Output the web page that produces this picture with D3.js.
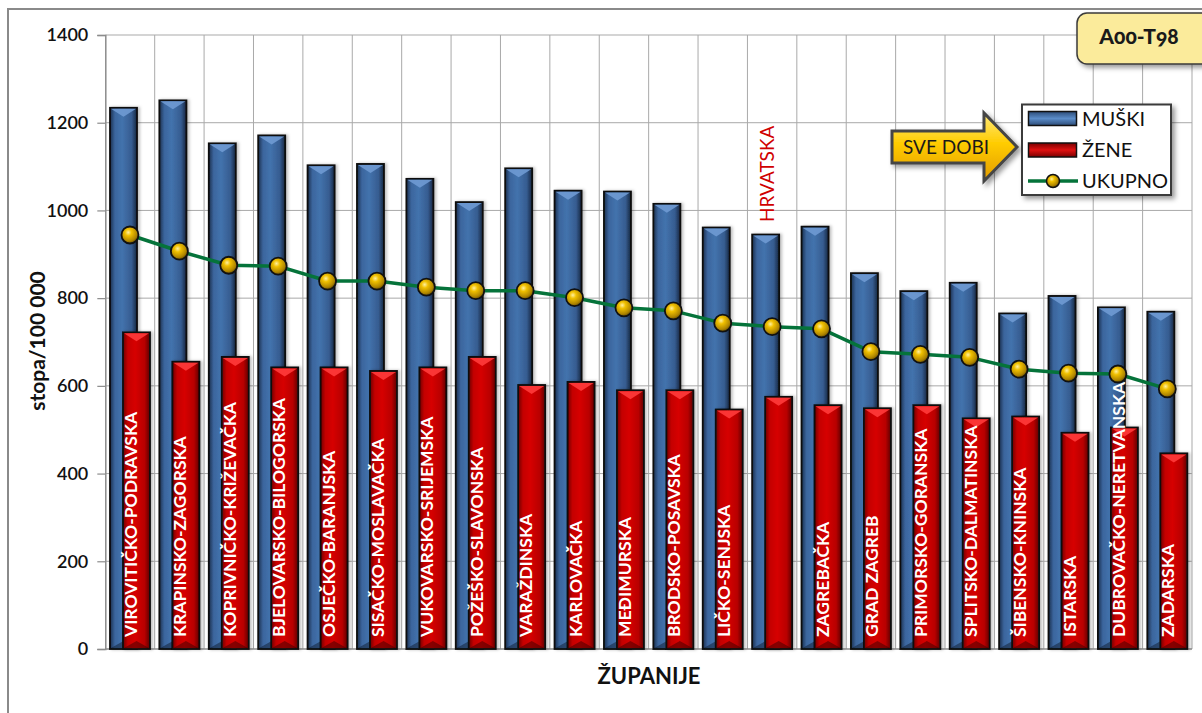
<!DOCTYPE html>
<html>
<head>
<meta charset="utf-8">
<script src="https://cdn.jsdelivr.net/npm/d3@7"></script>
<style>
  html, body { margin: 0; padding: 0; background: #fff; }
  svg { display: block; }
</style>
</head>
<body>
<svg id="chart" width="1202" height="713" font-family="Lato, 'Open Sans', sans-serif"></svg>
<script>
// Županije, mortality rates per 100 000, all ages (A00–T98)
const categories = [
  "VIROVITIČKO-PODRAVSKA", "KRAPINSKO-ZAGORSKA", "KOPRIVNIČKO-KRIŽEVAČKA",
  "BJELOVARSKO-BILOGORSKA", "OSJEČKO-BARANJSKA", "SISAČKO-MOSLAVAČKA",
  "VUKOVARSKO-SRIJEMSKA", "POŽEŠKO-SLAVONSKA", "VARAŽDINSKA", "KARLOVAČKA",
  "MEĐIMURSKA", "BRODSKO-POSAVSKA", "LIČKO-SENJSKA", "HRVATSKA", "ZAGREBAČKA",
  "GRAD ZAGREB", "PRIMORSKO-GORANSKA", "SPLITSKO-DALMATINSKA", "ŠIBENSKO-KNINSKA",
  "ISTARSKA", "DUBROVAČKO-NERETVANSKA", "ZADARSKA"
];
const muski = [1234, 1251, 1153, 1171, 1103, 1106, 1072, 1019, 1096, 1045, 1043,
               1015, 961, 945, 963, 857, 816, 835, 765, 805, 779, 769];
const zene = [722, 655, 666, 642, 642, 634, 642, 666, 602, 609, 590,
              590, 546, 575, 556, 549, 556, 526, 530, 493, 505, 446];
const ukupno = [944, 907, 875, 873, 839, 839, 825, 817, 817, 801, 778,
                771, 743, 735, 730, 678, 672, 665, 638, 629, 627, 593];
const yTicks = [0, 200, 400, 600, 800, 1000, 1200, 1400];
const seriesNames = ["MUŠKI", "ŽENE", "UKUPNO"];
const totalLabel = "HRVATSKA";
const yTitle = "stopa/100 000";
const xTitle = "ŽUPANIJE";
const badgeText = "A00-T98";
const arrowText = "SVE DOBI";

const svg = d3.select("#chart");
const defs = svg.append("defs");

// gradients
function hGrad(id, stops) {
  const g = defs.append("linearGradient").attr("id", id)
    .attr("x1", "0%").attr("x2", "100%").attr("y1", "0%").attr("y2", "0%");
  stops.forEach(([o, c]) => g.append("stop").attr("offset", o).attr("stop-color", c));
}
function vGrad(id, stops) {
  const g = defs.append("linearGradient").attr("id", id)
    .attr("x1", "0%").attr("x2", "0%").attr("y1", "0%").attr("y2", "100%");
  stops.forEach(([o, c]) => g.append("stop").attr("offset", o).attr("stop-color", c));
}
hGrad("gBlue", [["0%", "#1b2f4d"], ["18%", "#3b659d"], ["45%", "#4373ad"], ["80%", "#365c90"], ["100%", "#16263f"]]);
hGrad("gRed", [["0%", "#6e0000"], ["18%", "#c40000"], ["45%", "#d60404"], ["80%", "#b80000"], ["100%", "#5e0000"]]);
vGrad("gBlueLeg", [["0%", "#2c4c78"], ["50%", "#5b8cc8"], ["100%", "#2c4c78"]]);
vGrad("gRedLeg", [["0%", "#7a0000"], ["50%", "#e01010"], ["100%", "#7a0000"]]);
vGrad("gArrow", [["0%", "#ffe97a"], ["45%", "#ffcc00"], ["100%", "#e29b00"]]);
const rg = defs.append("radialGradient").attr("id", "gBall")
  .attr("cx", "40%").attr("cy", "35%").attr("r", "65%");
[["0%", "#fff0a0"], ["30%", "#f0c000"], ["78%", "#b08600"], ["100%", "#705400"]]
  .forEach(([o, c]) => rg.append("stop").attr("offset", o).attr("stop-color", c));

const shadow = defs.append("filter").attr("id", "shadow")
  .attr("x", "-20%").attr("y", "-20%").attr("width", "150%").attr("height", "160%");
shadow.append("feDropShadow").attr("dx", 3).attr("dy", 3).attr("stdDeviation", 2.5)
  .attr("flood-color", "#000").attr("flood-opacity", 0.4);
const barShadow = defs.append("filter").attr("id", "barShadow")
  .attr("x", "-30%").attr("y", "-5%").attr("width", "170%").attr("height", "110%");
barShadow.append("feDropShadow").attr("dx", 2).attr("dy", 0).attr("stdDeviation", 1.5)
  .attr("flood-color", "#000").attr("flood-opacity", 0.25);

// outer frame
svg.append("rect").attr("x", 8).attr("y", 9).attr("width", 1220).attr("height", 720)
  .attr("fill", "none").attr("stroke", "#8a8a8a").attr("stroke-width", 2);

// scales
const plot = { left: 105.3, right: 1192, top: 35, bottom: 649 };
const x = d3.scaleBand().domain(categories).range([plot.left, plot.right]).padding(0);
const y = d3.scaleLinear().domain([0, 1400]).range([plot.bottom, plot.top]);
const bw = x.bandwidth();
const barW = bw * 0.547;
const blueOff = bw * 0.095;
const redOff = bw * 0.358;

// gridlines
const grid = svg.append("g");
grid.selectAll("line.h").data(yTicks.slice(1)).join("line")
  .attr("x1", plot.left).attr("x2", plot.right)
  .attr("y1", d => y(d)).attr("y2", d => y(d))
  .attr("stroke", "#a9a9a9").attr("stroke-width", 1);
grid.selectAll("line.v").data(categories.slice(1).concat(["_end"])).join("line")
  .attr("x1", (d, i) => i < categories.length - 1 ? x(d) : plot.right)
  .attr("x2", (d, i) => i < categories.length - 1 ? x(d) : plot.right)
  .attr("y1", plot.top).attr("y2", plot.bottom)
  .attr("stroke", "#a9a9a9").attr("stroke-width", 1);

// y axis
const yAxis = d3.axisLeft(y).tickValues(yTicks).tickSize(8).tickPadding(9).tickFormat(d3.format("d"));
const yg = svg.append("g").attr("transform", `translate(${plot.left},0)`).call(yAxis);
yg.select(".domain").attr("stroke", "#8c8c8c").attr("stroke-width", 1.5);
yg.selectAll(".tick line").attr("stroke", "#8c8c8c").attr("stroke-width", 1.2);
yg.selectAll(".tick text").attr("font-family", "Lato, sans-serif").attr("font-size", 18)
  .attr("font-weight", 600).attr("fill", "#111");

// x axis baseline
svg.append("line").attr("x1", plot.left).attr("x2", plot.right)
  .attr("y1", plot.bottom).attr("y2", plot.bottom)
  .attr("stroke", "#8c8c8c").attr("stroke-width", 1.5);

// bars
function drawBars(values, offset, fill, bevel, base, cls) {
  const g = svg.append("g").attr("class", cls);
  const rows = categories.map((c, i) => ({ c, v: values[i] }));
  const grp = g.selectAll("g").data(rows).join("g")
    .attr("transform", d => `translate(${x(d.c) + offset},0)`);
  grp.append("rect")
    .attr("x", 0).attr("width", barW)
    .attr("y", d => y(d.v)).attr("height", d => y(0) - y(d.v))
    .attr("fill", `url(#${fill})`).attr("stroke", "#0d0d0d").attr("stroke-width", 1.8)
    .attr("filter", "url(#barShadow)");
  // top bevel
  grp.append("path")
    .attr("d", d => {
      const t = y(d.v) + 1;
      return `M1,${t} L${barW - 1},${t} L${barW / 2},${t + 8} Z`;
    })
    .attr("fill", bevel).attr("opacity", 0.9);
  // bottom shade
  grp.append("path")
    .attr("d", () => {
      const b = y(0) - 1;
      return `M1,${b} L${barW - 1},${b} L${barW / 2},${b - 7} Z`;
    })
    .attr("fill", base).attr("opacity", 0.5);
}
drawBars(muski, blueOff, "gBlue", "#6f9ad3", "#0f1c30", "muski");
drawBars(zene, redOff, "gRed", "#ff3b3b", "#3a0000", "zene");

// category names inside bars
const nameG = svg.append("g");
nameG.selectAll("text").data(categories.filter(c => c !== totalLabel)).join("text")
  .attr("transform", d => `translate(${x(d) + bw / 2 + 7},637) rotate(-90)`)
  .attr("text-anchor", "start")
  .attr("font-family", "Lato, sans-serif")
  .attr("font-weight", 700).attr("font-size", 17.5)
  .attr("fill", "#fff")
  .text(d => d);

// national total label above its bar
svg.append("text")
  .attr("transform", `translate(${x(totalLabel) + bw / 2 + 2},222) rotate(-90)`)
  .attr("text-anchor", "start")
  .attr("font-size", 19).attr("fill", "#d00000")
  .text(totalLabel);

// total line with markers
const line = d3.line().x((d, i) => x(categories[i]) + bw / 2).y(d => y(d));
svg.append("path").datum(ukupno).attr("d", line)
  .attr("fill", "none").attr("stroke", "#05733a").attr("stroke-width", 3.5)
  .attr("stroke-linejoin", "round");
svg.append("g").selectAll("circle").data(ukupno).join("circle")
  .attr("cx", (d, i) => x(categories[i]) + bw / 2).attr("cy", d => y(d))
  .attr("r", 8.5).attr("fill", "url(#gBall)").attr("stroke", "#111").attr("stroke-width", 1.8);

// axis titles
svg.append("text")
  .attr("transform", `translate(45,341) rotate(-90)`)
  .attr("text-anchor", "middle").attr("font-size", 21).attr("font-weight", 700)
  .attr("fill", "#111").text(yTitle);
svg.append("text")
  .attr("x", 649).attr("y", 684)
  .attr("text-anchor", "middle").attr("font-size", 22).attr("font-weight", 700)
  .attr("fill", "#111").text(xTitle);

// badge
const badge = svg.append("g");
badge.append("rect").attr("x", 1077).attr("y", 13).attr("width", 150).attr("height", 51)
  .attr("rx", 10).attr("fill", "#fbeb9b").attr("stroke", "#3a3a3a").attr("stroke-width", 1.5)
  .attr("filter", "url(#shadow)");
badge.append("text").attr("x", 1139).attr("y", 44).attr("text-anchor", "middle")
  .attr("font-family", "Lato, sans-serif")
  .attr("font-weight", 900).attr("font-size", 21).attr("fill", "#1a1a1a")
  .style("font-variant-numeric", "oldstyle-nums")
  .text(badgeText);

// arrow callout
const arrow = svg.append("g");
arrow.append("path")
  .attr("d", "M892,131 L984,131 L984,113 L1017,147 L984,181 L984,163 L892,163 Z")
  .attr("fill", "url(#gArrow)").attr("stroke", "#454545").attr("stroke-width", 3)
  .attr("stroke-linejoin", "miter").attr("filter", "url(#shadow)");
arrow.append("text").attr("x", 946).attr("y", 154).attr("text-anchor", "middle")
  .attr("font-size", 19).attr("fill", "#1a1a1a").text(arrowText);

// legend
const leg = svg.append("g");
leg.append("rect").attr("x", 1022).attr("y", 104.5).attr("width", 149).attr("height", 90.5)
  .attr("fill", "#fff").attr("stroke", "#3a3a3a").attr("stroke-width", 2)
  .attr("filter", "url(#shadow)");
const legRows = [
  { name: seriesNames[0], y: 118.5, kind: "bar", fill: "gBlueLeg" },
  { name: seriesNames[1], y: 150, kind: "bar", fill: "gRedLeg" },
  { name: seriesNames[2], y: 181, kind: "line" }
];
legRows.forEach(r => {
  if (r.kind === "bar") {
    leg.append("rect").attr("x", 1028.5).attr("y", r.y - 7).attr("width", 48).attr("height", 14)
      .attr("fill", `url(#${r.fill})`).attr("stroke", "#111").attr("stroke-width", 1.5);
  } else {
    leg.append("line").attr("x1", 1028).attr("x2", 1078).attr("y1", r.y).attr("y2", r.y)
      .attr("stroke", "#05733a").attr("stroke-width", 3.5);
    leg.append("circle").attr("cx", 1053).attr("cy", r.y).attr("r", 6.5)
      .attr("fill", "url(#gBall)").attr("stroke", "#111").attr("stroke-width", 1.5);
  }
  leg.append("text").attr("x", 1082).attr("y", r.y + 7).attr("font-size", 20)
    .attr("fill", "#111").text(r.name);
});
</script>
</body>
</html>
